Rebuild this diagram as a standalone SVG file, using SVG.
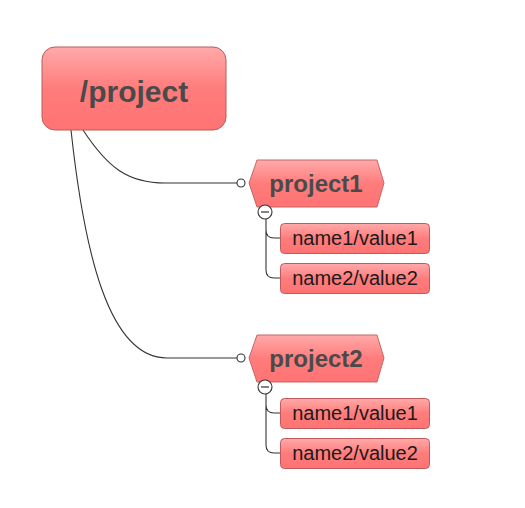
<svg xmlns="http://www.w3.org/2000/svg" width="525" height="508" viewBox="0 0 525 508">
<defs>
<linearGradient id="g" x1="0" y1="0" x2="0" y2="1">
<stop offset="0" stop-color="#ffaaaa"/>
<stop offset="0.5" stop-color="#ff7c7c"/>
<stop offset="1" stop-color="#ff7373"/>
</linearGradient>
<style>
.root{fill:url(#g);stroke:#b85c5c;stroke-width:1}
.hex{fill:url(#g);stroke:#c46666;stroke-width:1}
.leaf{fill:url(#g);stroke:#bf5a5a;stroke-width:1}
.t1{font-family:"Liberation Sans",Arial,sans-serif;font-weight:bold;fill:#4a4a4a;text-anchor:middle}
.t2{font-family:"Liberation Sans",Arial,sans-serif;font-size:20px;fill:#1a1a1a;text-anchor:middle}
.ln{fill:none;stroke:#333;stroke-width:1.1}
.dot{fill:#fff;stroke:#333;stroke-width:1.1}
</style>
</defs>
<rect width="525" height="508" fill="#fff"/>
<g id="connectors">
<path class="ln" d="M83,130 C108,168 128,183 165,183 H237"/>
<path class="ln" d="M71,130 C84,250 108,358 167,358 H237"/>
<circle class="dot" cx="241" cy="183" r="4"/>
<circle class="dot" cx="241" cy="358" r="4"/>
<path class="ln" d="M266,219 V230 Q266,238 274,238 H281 M266,230 V270 Q266,278 274,278 H281"/>
<path class="ln" d="M266,394 V405 Q266,413 274,413 H281 M266,405 V445 Q266,453 274,453 H281"/>
</g>
<g id="root">
<rect class="root" x="42" y="47" width="184" height="83" rx="13"/>
<text class="t1" x="134" y="102" font-size="30">/project</text>
</g>
<g id="project1">
<polygon class="hex" points="249,183 257,160 377,160 384,183 377,207 257,207"/>
<text class="t1" x="316" y="192" font-size="24">project1</text>
<circle class="dot" cx="265" cy="212" r="7"/>
<line x1="261" y1="212" x2="269" y2="212" stroke="#333" stroke-width="1.2"/>
</g>
<g id="p1n1">
<rect class="leaf" x="280.5" y="223.5" width="149" height="30" rx="4"/>
<text class="t2" x="355" y="245">name1/value1</text>
</g>
<g id="p1n2">
<rect class="leaf" x="280.5" y="263.5" width="149" height="30" rx="4"/>
<text class="t2" x="355" y="285">name2/value2</text>
</g>
<g id="project2">
<polygon class="hex" points="249,358 257,335 377,335 384,358 377,382 257,382"/>
<text class="t1" x="316" y="367" font-size="24">project2</text>
<circle class="dot" cx="265" cy="387" r="7"/>
<line x1="261" y1="387" x2="269" y2="387" stroke="#333" stroke-width="1.2"/>
</g>
<g id="p2n1">
<rect class="leaf" x="280.5" y="398.5" width="149" height="30" rx="4"/>
<text class="t2" x="355" y="420">name1/value1</text>
</g>
<g id="p2n2">
<rect class="leaf" x="280.5" y="438.5" width="149" height="30" rx="4"/>
<text class="t2" x="355" y="460">name2/value2</text>
</g>
</svg>
